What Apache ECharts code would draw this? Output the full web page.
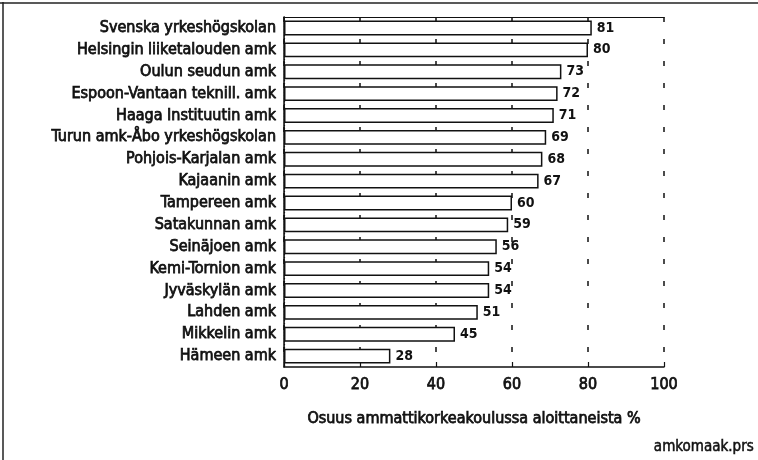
<!DOCTYPE html>
<html>
<head>
<meta charset="utf-8">
<script src="https://cdn.jsdelivr.net/npm/echarts@6/dist/echarts.min.js"></script>
<style>
  html, body { margin: 0; padding: 0; background: #fff; }
  #chart { width: 758px; height: 460px; }
</style>
</head>
<body>
<div id="chart"></div>
<script>
// oppilaitokset ylhäältä alas
var schools = [
  'Svenska yrkeshögskolan', 'Helsingin liiketalouden amk', 'Oulun seudun amk',
  'Espoon-Vantaan teknill. amk', 'Haaga Instituutin amk', 'Turun amk-Åbo yrkeshögskolan',
  'Pohjois-Karjalan amk', 'Kajaanin amk', 'Tampereen amk', 'Satakunnan amk',
  'Seinäjoen amk', 'Kemi-Tornion amk', 'Jyväskylän amk', 'Lahden amk',
  'Mikkelin amk', 'Hämeen amk'
];
var shares = [81, 80, 73, 72, 71, 69, 68, 67, 60, 59, 56, 54, 54, 51, 45, 28];
var ticks = [0, 20, 40, 60, 80, 100];

var font = '"DejaVu Sans Condensed", "Liberation Sans Narrow", sans-serif';
// skannattu teksti on hieman lihavaa -> ohut reunus
var txt = { color: '#111', fontFamily: font, fontSize: 16, textBorderColor: '#111', textBorderWidth: 0.75 };

var myChart = echarts.init(document.getElementById('chart'));
var option = {
  backgroundColor: '#fff',
  animation: false,
  grid: { left: 284, right: 94, top: 17, bottom: 93 },
  xAxis: [{
    type: 'value',
    min: ticks[0], max: ticks[ticks.length - 1], interval: 20,
    axisLine: { show: true, lineStyle: { color: '#111', width: 1.5 } },
    axisTick: { show: true, inside: true, length: 5, lineStyle: { color: '#111', width: 1.2 } },
    axisLabel: Object.assign({ margin: 10 }, txt),
    splitLine: { show: true, lineStyle: { color: '#111', type: [5, 17], width: 1.5 } },
    name: 'Osuus ammattikorkeakoulussa aloittaneista %',
    nameLocation: 'middle', nameGap: 44,
    nameTextStyle: txt
  }, {
    // yläreuna
    type: 'value', position: 'top',
    min: ticks[0], max: ticks[ticks.length - 1],
    axisLine: { show: true, lineStyle: { color: '#111', width: 1.2 } },
    axisTick: { show: false }, axisLabel: { show: false }, splitLine: { show: false }
  }],
  yAxis: [{
    type: 'category',
    data: schools,
    inverse: true,
    axisLine: { show: true, lineStyle: { color: '#111', width: 1.5 } },
    axisTick: { show: false },
    axisLabel: Object.assign({ margin: 8 }, txt),
    splitLine: { show: false }
  }, {
    // oikea reuna, pisteviiva
    type: 'category', position: 'right',
    data: schools, inverse: true,
    axisLine: { show: true, lineStyle: { color: '#111', width: 1.2, type: [1, 2] } },
    axisTick: { show: false }, axisLabel: { show: false }, splitLine: { show: false }
  }],
  series: [{
    type: 'bar',
    data: shares,
    barCategoryGap: '32%',
    itemStyle: { color: '#fff', borderColor: '#111', borderWidth: 1.5 },
    label: {
      show: true, position: 'right', distance: 5,
      color: '#111', fontFamily: font, fontWeight: 'bold', fontSize: 14
    }
  }],
  graphic: [
    { type: 'line', shape: { x1: 3, y1: 2, x2: 3, y2: 460 }, style: { stroke: '#222', lineWidth: 1.5 } },
    { type: 'line', shape: { x1: 0, y1: 3, x2: 758, y2: 3 }, style: { stroke: '#222', lineWidth: 1.5 } },
    {
      type: 'text', right: 4, top: 439,
      style: { text: 'amkomaak.prs', fill: '#111', font: '15px ' + font, stroke: '#111', lineWidth: 0.5 }
    }
  ]
};
myChart.setOption(option);
window.addEventListener('resize', function () { myChart.resize(); });
</script>
</body>
</html>
